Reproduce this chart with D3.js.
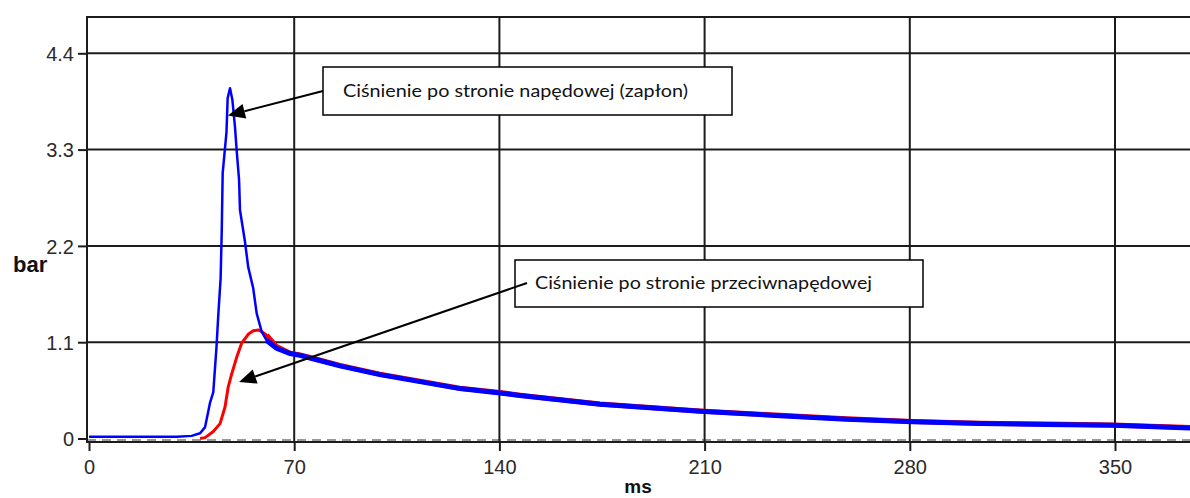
<!DOCTYPE html>
<html>
<head>
<meta charset="utf-8">
<script src="https://cdn.jsdelivr.net/npm/d3@7"></script>
<style>
  html, body { margin: 0; padding: 0; background: #fff; }
  svg { display: block; }
</style>
</head>
<body>
<svg id="chart" width="1190" height="498"></svg>
<script>
// ---- data ----
const xTicks = [0, 70, 140, 210, 280, 350];
const yTicks = [0, 1.1, 2.2, 3.3, 4.4];
const yLabel = "bar";
const xLabel = "ms";

// blue: drive-side pressure (ignition)
const blueTime = [0, 10, 20, 30, 35, 37.9, 39.6, 41.3, 42.4, 43.5, 44.1, 44.9, 45.3, 45.6, 46.9, 47.3, 48.1, 48.9, 49.8, 50.4, 51.2, 51.5, 53.2, 54.3, 56.0, 57.2, 58.9, 60.6, 64.0, 68.6, 72, 75.4, 85.6, 99.2, 112.9, 126.5, 140.2, 147, 174.3, 208.4, 235.7, 258.4, 281.1, 303.9, 326.6, 349.3, 376];
const bluePressure = [0.02, 0.02, 0.02, 0.02, 0.03, 0.06, 0.13, 0.41, 0.53, 1.05, 1.41, 1.83, 2.4, 3.03, 3.5, 3.89, 4.0, 3.87, 3.56, 3.28, 2.95, 2.61, 2.25, 1.96, 1.72, 1.43, 1.22, 1.12, 1.03, 0.97, 0.95, 0.92, 0.83, 0.73, 0.65, 0.57, 0.52, 0.49, 0.39, 0.31, 0.26, 0.22, 0.19, 0.17, 0.16, 0.15, 0.12];

// red: counter-drive-side pressure
const redTime = [37.9, 39.6, 42.4, 44.7, 46.4, 47.5, 48.7, 50.4, 52.1, 54.3, 56.0, 57.7, 59.0, 60.6, 64.0, 68.6, 72, 75.4, 85.6, 99.2, 112.9, 126.5, 140.2, 147, 174.3, 208.4, 235.7, 258.4, 281.1, 303.9, 326.6, 349.3, 376];
const redPressure = [0.0, 0.01, 0.08, 0.17, 0.36, 0.59, 0.74, 0.93, 1.09, 1.19, 1.23, 1.24, 1.22, 1.18, 1.05, 0.975, 0.955, 0.925, 0.835, 0.735, 0.655, 0.575, 0.525, 0.495, 0.395, 0.315, 0.265, 0.225, 0.195, 0.175, 0.165, 0.155, 0.125];

// annotations: text and the point (ms, bar) each arrow points at
const noteTexts = ["Ciśnienie po stronie napędowej (zapłon)", "Ciśnienie po stronie przeciwnapędowej"];
const noteTargetMs = [47.4, 51.2];
const noteTargetBar = [3.69, 0.645];

// ---- layout ----
const svg = d3.select("#chart");
const x = d3.scaleLinear().domain([0, 350]).range([89, 1115]);
const y = d3.scaleLinear().domain([0, 4.4]).range([438.5, 53.3]);
const frameLeft = 87, frameTop = 17, frameBottom = 442, frameRight = 1190;
const gridColor = "#1c1c1c";

// dashed zero reference
svg.append("line")
  .attr("x1", frameLeft).attr("x2", frameRight)
  .attr("y1", y(0) + 1.5).attr("y2", y(0) + 1.5)
  .attr("stroke", "#9a9a9a").attr("stroke-width", 2)
  .attr("stroke-dasharray", "9,6");

// horizontal grid
svg.append("g").selectAll("line").data(yTicks.filter(d => d > 0)).join("line")
  .attr("x1", frameLeft).attr("x2", frameRight)
  .attr("y1", d => y(d)).attr("y2", d => y(d))
  .attr("stroke", gridColor).attr("stroke-width", 2);

// vertical grid
svg.append("g").selectAll("line").data(xTicks.filter(d => d > 0)).join("line")
  .attr("x1", d => x(d)).attr("x2", d => x(d))
  .attr("y1", frameTop).attr("y2", frameBottom)
  .attr("stroke", gridColor).attr("stroke-width", 2);

// frame
svg.append("path")
  .attr("d", `M${frameRight},${frameTop}H${frameLeft}V${frameBottom}H${frameRight}`)
  .attr("fill", "none").attr("stroke", gridColor).attr("stroke-width", 2);

// y axis ticks
const yAxis = d3.axisLeft(y).tickValues(yTicks).tickSize(9).tickPadding(4)
  .tickFormat(d => d === 0 ? "0" : d3.format(".1f")(d));
const gy = svg.append("g").attr("transform", `translate(${frameLeft},0)`).call(yAxis);
gy.select(".domain").remove();
gy.selectAll(".tick line").attr("stroke", gridColor).attr("stroke-width", 2);
gy.selectAll(".tick text").attr("font-family", "Liberation Sans, Arial, sans-serif")
  .attr("font-size", 20).attr("fill", "#2a2a2a").attr("dy", "0.36em");

// x axis ticks
const xAxis = d3.axisBottom(x).tickValues(xTicks).tickSize(9).tickPadding(9);
const gx = svg.append("g").attr("transform", `translate(0,${frameBottom})`).call(xAxis);
gx.select(".domain").remove();
gx.selectAll(".tick line").attr("stroke", gridColor).attr("stroke-width", 2);
gx.selectAll(".tick text").attr("font-family", "Liberation Sans, Arial, sans-serif")
  .attr("font-size", 20).attr("fill", "#2a2a2a");

// axis titles
svg.append("text").attr("x", 13).attr("y", 272).text(yLabel)
  .attr("font-family", "Liberation Sans, Arial, sans-serif").attr("font-weight", "bold")
  .attr("font-size", 22).attr("fill", "#111");
svg.append("text").attr("x", 638).attr("y", 493).attr("text-anchor", "middle").text(xLabel)
  .attr("font-family", "Liberation Sans, Arial, sans-serif").attr("font-weight", "bold")
  .attr("font-size", 19).attr("fill", "#111");

// series
const blue = blueTime.map((t, i) => [t, bluePressure[i]]);
const red = redTime.map((t, i) => [t, redPressure[i]]);
const line = d3.line().x(d => x(d[0])).y(d => y(d[1]));
svg.append("clipPath").attr("id", "plotclip").append("rect")
  .attr("x", frameLeft).attr("y", frameTop).attr("width", frameRight - frameLeft).attr("height", frameBottom - frameTop);

const plot = svg.append("g").attr("clip-path", "url(#plotclip)");
// red: rise + thick noisy decay
plot.append("path").attr("d", line(red)).attr("fill", "none")
  .attr("stroke", "#ff0000").attr("stroke-width", 3).attr("stroke-linejoin", "round");
plot.append("path").attr("d", line(red.filter(d => d[0] >= 60))).attr("fill", "none")
  .attr("stroke", "#ff0000").attr("stroke-width", 5);
// blue
plot.append("path").attr("d", line(blue)).attr("fill", "none")
  .attr("stroke", "#0000ff").attr("stroke-width", 2.5).attr("stroke-linejoin", "round");
plot.append("path").attr("d", line(blue.filter(d => d[0] >= 60))).attr("fill", "none")
  .attr("stroke", "#0000ff").attr("stroke-width", 5);

// annotation boxes
const boxes = [
  { x: 323, y: 67, w: 409, h: 48, tx: 343, ty: 97, tw: 345, lx: 323, ly: 91 },
  { x: 515, y: 260, w: 408, h: 47, tx: 535, ty: 289, tw: 337, lx: 527, ly: 283 }
];
boxes.forEach((b, i) => {
  const tx = x(noteTargetMs[i]), ty = y(noteTargetBar[i]);
  const ang = Math.atan2(ty - b.ly, tx - b.lx);
  const L = 17, W = 7.5;
  const bx = tx - L * Math.cos(ang), by = ty - L * Math.sin(ang);
  svg.append("rect").attr("x", b.x).attr("y", b.y).attr("width", b.w).attr("height", b.h)
    .attr("fill", "#fff").attr("stroke", "#000").attr("stroke-width", 1.5);
  svg.append("line").attr("x1", b.lx).attr("y1", b.ly).attr("x2", bx).attr("y2", by)
    .attr("stroke", "#000").attr("stroke-width", 2);
  const p1 = [bx + W * Math.sin(ang), by - W * Math.cos(ang)];
  const p2 = [bx - W * Math.sin(ang), by + W * Math.cos(ang)];
  svg.append("polygon").attr("points", [[tx, ty], p1, p2].map(p => p.join(",")).join(" "))
    .attr("fill", "#000");
  svg.append("text").attr("x", b.tx).attr("y", b.ty).text(noteTexts[i])
    .attr("font-family", "Lato, 'Open Sans', sans-serif").attr("font-size", 17.5)
    .attr("fill", "#111").attr("textLength", b.tw).attr("lengthAdjust", "spacingAndGlyphs");
});
</script>
</body>
</html>
